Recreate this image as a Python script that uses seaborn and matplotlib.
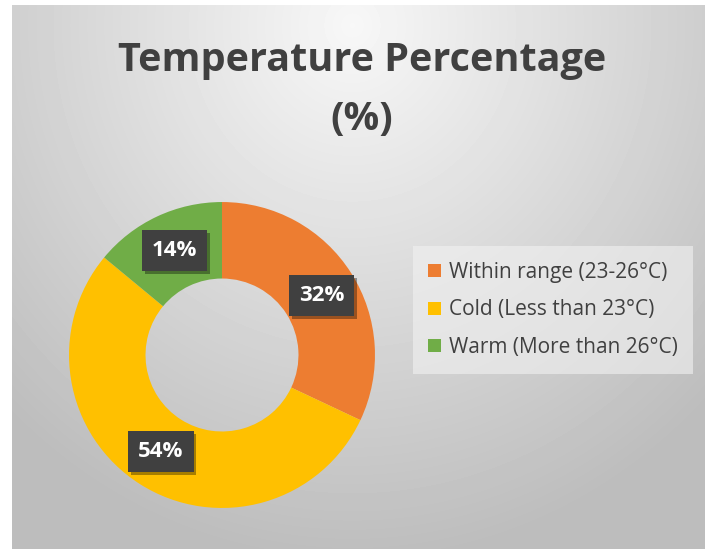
import numpy as np
import seaborn as sns
import matplotlib.pyplot as plt
import matplotlib.patheffects as pe
from matplotlib.patches import Patch

# data
categories = ["Within range (23-26°C)", "Cold (Less than 23°C)", "Warm (More than 26°C)"]
percentages = [32, 54, 14]
colors = ["#ED7D31", "#FFC000", "#70AD47"]

sns.set_style("white")
plt.rcParams['font.family'] = ['Open Sans', 'DejaVu Sans']

fig = plt.figure(figsize=(7.05, 5.49), dpi=100)

# radial gradient chart background
bg = fig.add_axes([12 / 705, 0, 693 / 705, 544 / 549])
yy, xx = np.mgrid[0:544, 0:693]
d = np.sqrt(((xx - 340) / 520.0) ** 2 + ((yy - 20) / 560.0) ** 2)
shade = np.clip(0.97 - 0.24 * d, 0.74, 1.0)
bg.imshow(shade, cmap="gray", vmin=0, vmax=1, aspect="auto")
bg.axis("off")

# donut
ax = fig.add_axes([(222 - 160) / 705, 1 - (355 + 160) / 549, 320 / 705, 320 / 549])
wedges, _ = ax.pie(percentages, colors=colors, startangle=90, counterclock=False,
                   radius=1.0, wedgeprops=dict(width=0.5, edgecolor="none"))
ax.set_xlim(-1.046, 1.046)
ax.set_ylim(-1.046, 1.046)
ax.set_aspect("equal")
ax.axis("off")

label_pos = [(0.65, 0.39), (-0.40, -0.63), (-0.31, 0.68)]
for p, (x, y) in zip(percentages, label_pos):
    t = ax.text(x, y, f"{p}%", ha="center", va="center", fontsize=16,
                fontweight="bold", color="white",
                bbox=dict(boxstyle="square,pad=0.45", fc="#404040", ec="none"))
    t.get_bbox_patch().set_path_effects(
        [pe.SimplePatchShadow(offset=(2, -2), shadow_rgbFace="black", alpha=0.35), pe.Normal()])

fig.text(362 / 705, 1 - 60 / 549, "Temperature Percentage", ha="center", va="center",
         fontsize=28.5, fontweight="bold", color="#404040")
fig.text(362 / 705, 1 - 120 / 549, "(%)", ha="center", va="center",
         fontsize=28.5, fontweight="bold", color="#404040")

handles = [Patch(facecolor=c, edgecolor="none") for c in colors]
leg = fig.legend(handles, categories, loc="center", bbox_to_anchor=(553 / 705, 1 - 310 / 549),
                 frameon=True, fontsize=15, labelcolor="#404040", handlelength=0.6,
                 handleheight=0.6, handletextpad=0.4, labelspacing=0.8, borderpad=0.75,
                 borderaxespad=0, fancybox=False)
leg.get_frame().set_facecolor("#f2f2f2")
leg.get_frame().set_alpha(0.6)
leg.get_frame().set_edgecolor("none")

fig.savefig("out.png", dpi=100)
